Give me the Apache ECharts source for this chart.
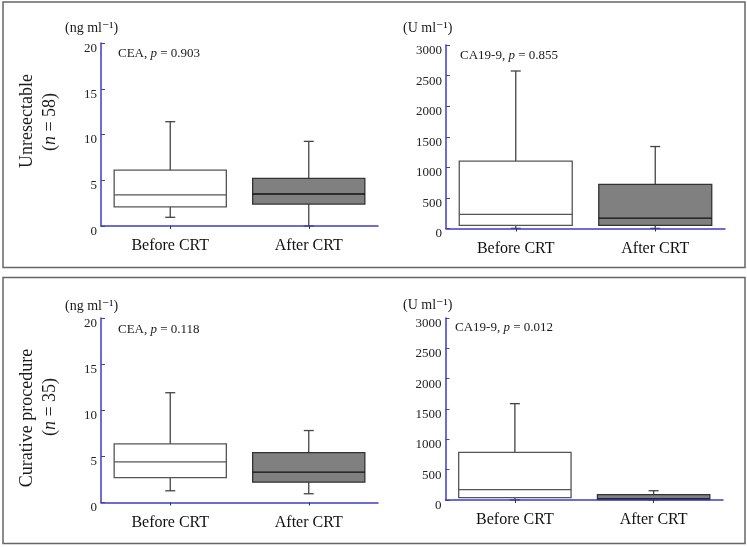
<!DOCTYPE html>
<html>
<head>
<meta charset="utf-8">
<script src="https://cdn.jsdelivr.net/npm/echarts@6/dist/echarts.min.js"></script>
<style>html,body{margin:0;padding:0;background:#fff;}#c{width:747px;height:547px;}</style>
</head>
<body>
<div id="c"></div>
<script>
// ---- data ----
const categories = ['Before CRT', 'After CRT'];
// [min, Q1, median, Q3, max]
const ceaUnresectable = [[0.95, 2.1, 3.4, 6.1, 11.4], [0, 2.4, 3.5, 5.2, 9.25]];
const ca199Unresectable = [[2, 50, 230, 1100, 2575], [2, 50, 168, 720, 1340]];
const ceaCurative = [[1.27, 2.7, 4.4, 6.35, 11.9], [0.95, 2.2, 3.3, 5.4, 7.8]];
const ca199Curative = [[2, 40, 170, 785, 1588], [2, 8, 20, 90, 153]];
const ceaTicks = [0, 5, 10, 15, 20];
const ca199Ticks = [0, 500, 1000, 1500, 2000, 2500, 3000];
const pCEAUnres = '0.903', pCAUnres = '0.855', pCEACur = '0.118', pCACur = '0.012';

// ---- style ----
const SERIF = '"Liberation Serif", "DejaVu Serif", serif';
const BLUE = '#3c3cc4';
const fills = ['#ffffff', '#808080'];
const strokes = ['#555555', '#333333'];
const medians = ['#555555', '#111111'];

function renderBox(params, api) {
  const ci = api.value(0);
  const x = api.coord([ci, 0])[0];
  const band = api.size([1, 0])[0];
  const w = band * 0.81;
  const cap = 10;
  const yMin = api.coord([ci, api.value(1)])[1];
  const yQ1 = api.coord([ci, api.value(2)])[1];
  const yMed = api.coord([ci, api.value(3)])[1];
  const yQ3 = api.coord([ci, api.value(4)])[1];
  const yMax = api.coord([ci, api.value(5)])[1];
  const s = strokes[ci], lw = 1.3;
  return {
    type: 'group',
    children: [
      {type: 'line', shape: {x1: x, y1: yQ3, x2: x, y2: yMax}, style: {stroke: '#444', lineWidth: lw}},
      {type: 'line', shape: {x1: x - cap / 2, y1: yMax, x2: x + cap / 2, y2: yMax}, style: {stroke: '#444', lineWidth: lw}},
      {type: 'line', shape: {x1: x, y1: yQ1, x2: x, y2: yMin}, style: {stroke: '#444', lineWidth: lw}},
      {type: 'line', shape: {x1: x - cap / 2, y1: yMin, x2: x + cap / 2, y2: yMin}, style: {stroke: '#444', lineWidth: lw}},
      {type: 'rect', shape: {x: x - w / 2, y: yQ3, width: w, height: yQ1 - yQ3}, style: {fill: fills[ci], stroke: s, lineWidth: lw}},
      {type: 'line', shape: {x1: x - w / 2, y1: yMed, x2: x + w / 2, y2: yMed}, style: {stroke: medians[ci], lineWidth: lw}}
    ]
  };
}

const grids = [
  {left: 101, top: 43, width: 277, height: 183},
  {left: 446, top: 45, width: 279, height: 183.5},
  {left: 101, top: 318, width: 277, height: 184.5},
  {left: 445.5, top: 318, width: 277.5, height: 182}
];
const datasets = [ceaUnresectable, ca199Unresectable, ceaCurative, ca199Curative];
const ranges = [ceaTicks, ca199Ticks, ceaTicks, ca199Ticks];

const xAxes = grids.map((g, i) => ({
  type: 'category', gridIndex: i, data: categories, z: 5,
  axisLine: {lineStyle: {color: BLUE, width: 1.5}},
  axisTick: {show: true, alignWithLabel: true, length: 3, lineStyle: {color: '#333'}},
  axisLabel: {fontFamily: SERIF, fontSize: 16, color: '#111', margin: 12}
}));
const yAxes = grids.map((g, i) => {
  const t = ranges[i];
  return {
    type: 'value', gridIndex: i, min: t[0], max: t[t.length - 1], interval: t[1] - t[0], z: 5,
    splitLine: {show: false},
    axisLine: {show: true, lineStyle: {color: BLUE, width: 1.5}},
    axisTick: {show: true, inside: true, length: 4, lineStyle: {color: BLUE}},
    axisLabel: {fontFamily: SERIF, fontSize: 13, color: '#222', margin: 4,
      verticalAlign: 'top', lineHeight: 11, formatter: v => String(v)}
  };
});
const series = datasets.map((d, i) => ({
  type: 'custom', xAxisIndex: i, yAxisIndex: i, renderItem: renderBox,
  encode: {x: 0, y: [1, 2, 3, 4, 5]},
  data: d.map((v, ci) => [ci].concat(v))
}));

function txt(x, y, text, size, opts) {
  return Object.assign({
    type: 'text', x: x, y: y, z: 10,
    style: Object.assign({
      text: text, fontFamily: SERIF, fontSize: size, fill: '#1a1a1a',
      align: 'left', verticalAlign: 'middle',
      rich: {i: {fontFamily: SERIF, fontSize: size, fontStyle: 'italic', fill: '#1a1a1a'}}
    }, (opts && opts.style) || {})
  }, opts && opts.rotation !== undefined ? {rotation: opts.rotation} : {});
}
function vtxt(x, y, text, size) {
  return txt(x, y, text, size, {rotation: Math.PI / 2, style: {align: 'center', verticalAlign: 'middle'}});
}

const graphics = [
  {type: 'rect', shape: {x: 3, y: 2, width: 742, height: 265.5}, style: {fill: 'none', stroke: '#666', lineWidth: 1.5}},
  {type: 'rect', shape: {x: 3, y: 277.5, width: 742, height: 266}, style: {fill: 'none', stroke: '#666', lineWidth: 1.5}},
  txt(65, 28, '(ng ml⁻¹)', 14),
  txt(403, 28, '(U ml⁻¹)', 14),
  txt(65, 306, '(ng ml⁻¹)', 14),
  txt(403, 305, '(U ml⁻¹)', 14),
  txt(118, 54, 'CEA, {i|p} = ' + pCEAUnres, 13),
  txt(460, 56, 'CA19-9, {i|p} = ' + pCAUnres, 13),
  txt(118, 330, 'CEA, {i|p} = ' + pCEACur, 13),
  txt(455, 328, 'CA19-9, {i|p} = ' + pCACur, 13),
  vtxt(27, 121, 'Unresectable', 18),
  vtxt(50, 122, '({i|n} = 58)', 18),
  vtxt(27, 418, 'Curative procedure', 18),
  vtxt(50, 407, '({i|n} = 35)', 18)
];

const chart = echarts.init(document.getElementById('c'), null, {renderer: 'canvas'});
chart.setOption({
  animation: false,
  backgroundColor: '#fff',
  grid: grids,
  xAxis: xAxes,
  yAxis: yAxes,
  series: series,
  graphic: graphics
});
</script>
</body>
</html>
